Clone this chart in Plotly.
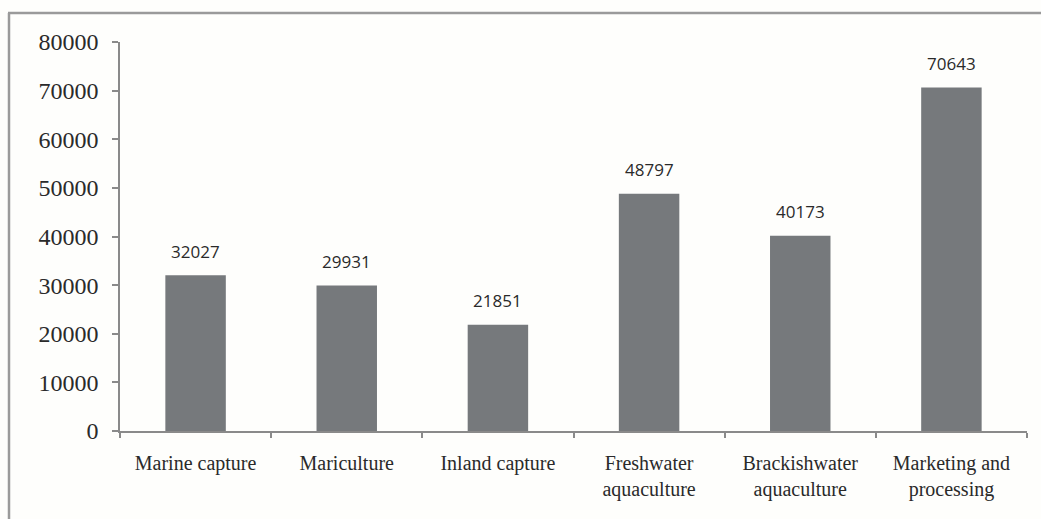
import plotly.graph_objects as go

categories = ["Marine capture", "Mariculture", "Inland capture",
              "Freshwater<br>aquaculture", "Brackishwater<br>aquaculture",
              "Marketing and<br>processing"]
values = [32027, 29931, 21851, 48797, 40173, 70643]
y_ticks = [0, 10000, 20000, 30000, 40000, 50000, 60000, 70000, 80000]

W, H = 1041, 519
L, R, T, B = 120, 14, 42, 88
pw, ph = W - L - R, H - T - B

fig = go.Figure(go.Bar(
    x=categories, y=values, marker_color="#76797c",
    marker_line_width=0, width=0.4,
))

for c, v in zip(categories, values):
    fig.add_annotation(x=c, y=v, text=str(v), showarrow=False,
                       yshift=24, font=dict(family="Open Sans, sans-serif", size=17, color="#2a2a2a"))

# frame lines (top and left)
fig.add_shape(type="line", xref="paper", yref="paper",
              x0=(8 - L) / pw, x1=(W - L) / pw,
              y0=(H - B - 13) / ph, y1=(H - B - 13) / ph,
              line=dict(color="#9a9a9a", width=2.5))
fig.add_shape(type="line", xref="paper", yref="paper",
              x0=(9 - L) / pw, x1=(9 - L) / pw,
              y0=(H - B - 13) / ph, y1=(H - B - H) / ph,
              line=dict(color="#9a9a9a", width=2.5))

fig.update_layout(
    width=W, height=H,
    margin=dict(l=L, r=R, t=T, b=B),
    paper_bgcolor="#fefefc", plot_bgcolor="#fefefc",
    showlegend=False, bargap=0.6,
    font=dict(family="Liberation Serif, Times New Roman, serif", color="#2a2a2a"),
)
fig.update_yaxes(range=[0, 80000], tickvals=y_ticks, ticktext=[str(t) for t in y_ticks],
                 showgrid=False, showline=True, linecolor="#8a8a8a", linewidth=1.5,
                 ticks="outside", ticklen=6, tickcolor="#8a8a8a", tickwidth=1.5,
                 tickfont=dict(size=24), zeroline=False, ticklabelstandoff=9)
fig.update_xaxes(showgrid=False, showline=True, linecolor="#8a8a8a", linewidth=1.5,
                 ticks="outside", ticklen=5, tickcolor="#8a8a8a", tickwidth=1.5,
                 tickson="boundaries", tickfont=dict(size=20), ticklabelstandoff=13)

fig.write_html("out.html")
